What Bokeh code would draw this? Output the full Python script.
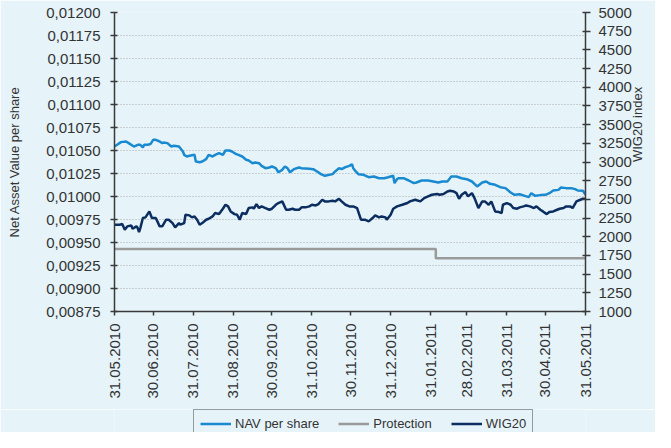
import math
import pandas as pd
from bokeh.plotting import figure
from bokeh.layouts import column
from bokeh.models import (Range1d, LinearAxis, FixedTicker, CustomJSTickFormatter,
                          DatetimeTickFormatter, Legend, LegendItem, ColumnDataSource)
from bokeh.embed import file_html
from bokeh.resources import INLINE

# ---------------- data ----------------
start_date = "2010-05-31"
end_date = "2011-05-31"

x_tick_dates = ["2010-05-31", "2010-06-30", "2010-07-31", "2010-08-31", "2010-09-30",
                "2010-10-31", "2010-11-30", "2010-12-31", "2011-01-31", "2011-02-28",
                "2011-03-31", "2011-04-30", "2011-05-31"]

left_ticks = [0.00875, 0.00900, 0.00925, 0.00950, 0.00975, 0.01000, 0.01025,
              0.01050, 0.01075, 0.01100, 0.01125, 0.01150, 0.01175, 0.01200]
right_ticks = [1000, 1250, 1500, 1750, 2000, 2250, 2500, 2750, 3000, 3250,
               3500, 3750, 4000, 4250, 4500, 4750, 5000]

series_names = ["NAV per share", "Protection", "WIG20"]

# days after 31.05.2010
nav_day = [0, 2, 5, 9, 11, 15, 18, 20, 22, 23, 26, 28, 30, 32, 35, 37, 38, 41, 44, 46,
           50, 53, 54, 56, 59, 62, 63, 66, 68, 71, 73, 76, 78, 81, 84, 86, 89, 91, 94, 96,
           99, 102, 104, 107, 109, 112, 114, 117, 120, 122, 125, 127, 130, 132, 134, 136, 139, 143, 145, 151,
           154, 157, 160, 163, 169, 171, 174, 176, 179, 182, 184, 185, 187, 189, 193, 197, 201, 205, 209, 212,
           216, 217, 219, 220, 224, 228, 232, 234, 238, 243, 247, 251, 254, 258, 261, 265, 269, 273, 277, 281,
           285, 288, 291, 295, 299, 303, 307, 310, 314, 318, 321, 323, 326, 330, 334, 337, 340, 344, 346, 350,
           354, 357, 359, 363, 365]
nav_value = [0.010543, 0.010562, 0.010591, 0.010598, 0.010580, 0.010543, 0.010562, 0.010562, 0.010533, 0.010562,
             0.010562, 0.010572, 0.010616, 0.010616, 0.010598, 0.010580, 0.010587, 0.010580, 0.010543, 0.010551,
             0.010543, 0.010489, 0.010453, 0.010435, 0.010446, 0.010453, 0.010380, 0.010373, 0.010380, 0.010406,
             0.010453, 0.010435, 0.010453, 0.010471, 0.010453, 0.010500, 0.010500, 0.010489, 0.010464, 0.010453,
             0.010435, 0.010399, 0.010391, 0.010362, 0.010370, 0.010362, 0.010333, 0.010308, 0.010315, 0.010326,
             0.010308, 0.010264, 0.010290, 0.010326, 0.010308, 0.010264, 0.010297, 0.010315, 0.010308, 0.010301,
             0.010297, 0.010272, 0.010243, 0.010225, 0.010243, 0.010272, 0.010308, 0.010297, 0.010319, 0.010333,
             0.010351, 0.010308, 0.010272, 0.010243, 0.010236, 0.010210, 0.010217, 0.010199, 0.010199, 0.010210,
             0.010225, 0.010145, 0.010190, 0.010199, 0.010199, 0.010174, 0.010145, 0.010152, 0.010174, 0.010174,
             0.010163, 0.010152, 0.010163, 0.010163, 0.010217, 0.010217, 0.010199, 0.010188, 0.010163, 0.010109,
             0.010152, 0.010163, 0.010138, 0.010127, 0.010101, 0.010091, 0.010043, 0.010018, 0.010025, 0.010007,
             0.009993, 0.010036, 0.010007, 0.010015, 0.010018, 0.010036, 0.010065, 0.010072, 0.010098, 0.010091,
             0.010091, 0.010080, 0.010065, 0.010062, 0.010018]

wig_day = [0, 4, 6, 8, 10, 13, 14, 17, 18, 19, 20, 22, 24, 27, 29, 32, 35, 37, 40, 42,
           45, 47, 50, 51, 54, 55, 58, 60, 62, 64, 66, 68, 71, 73, 76, 78, 81, 84, 86, 88,
           90, 93, 95, 97, 99, 102, 104, 107, 108, 110, 112, 114, 117, 120, 122, 125, 127, 130, 133, 135,
           138, 140, 143, 145, 148, 151, 153, 156, 158, 161, 163, 166, 169, 171, 174, 176, 179, 182, 185, 188,
           191, 194, 197, 200, 202, 205, 207, 210, 211, 214, 216, 219, 223, 227, 229, 233, 237, 240, 243, 246,
           250, 252, 255, 258, 260, 263, 265, 267, 269, 272, 274, 277, 279, 282, 285, 287, 290, 292, 295, 298,
           300, 301, 304, 307, 309, 312, 314, 317, 319, 322, 325, 327, 330, 332, 335, 337, 340, 343, 345, 348,
           350, 353, 355, 358, 361, 363, 365]
wig_value = [2161, 2161, 2170, 2094, 2139, 2152, 2107, 2139, 2116, 2063, 2116, 2250, 2259, 2339, 2250, 2250, 2139, 2139, 2228, 2228,
             2183, 2125, 2183, 2161, 2183, 2295, 2286, 2259, 2272, 2228, 2161, 2183, 2228, 2241, 2272, 2317, 2303, 2375, 2428, 2406,
             2339, 2303, 2295, 2228, 2317, 2303, 2384, 2393, 2375, 2437, 2384, 2406, 2384, 2361, 2375, 2428, 2451, 2473, 2361, 2361,
             2375, 2361, 2361, 2393, 2393, 2406, 2428, 2419, 2437, 2495, 2473, 2473, 2482, 2473, 2508, 2473, 2428, 2406, 2406, 2384,
             2228, 2228, 2205, 2250, 2286, 2259, 2272, 2259, 2228, 2295, 2375, 2406, 2428, 2451, 2473, 2495, 2473, 2517, 2540, 2562,
             2571, 2562, 2571, 2606, 2615, 2606, 2584, 2508, 2562, 2598, 2540, 2584, 2517, 2384, 2473, 2473, 2428, 2473, 2339, 2330,
             2317, 2428, 2451, 2428, 2384, 2375, 2393, 2406, 2419, 2406, 2384, 2406, 2361, 2339, 2303, 2330, 2339, 2361, 2375, 2384,
             2406, 2406, 2384, 2473, 2495, 2508, 2508]

protection_day = [0, 249, 249, 365]
protection_value = [0.00943, 0.00943, 0.00933, 0.00933]

# ---------------- styling ----------------
BG = "#e6f4fa"
TXT = "#333333"
AX = "#3a3a3a"
FONT = "Liberation Sans"
NAV_C = "#1a8ad0"
PROT_C = "#9a9a9a"
WIG_C = "#0b2d5f"
COLORS = [NAV_C, PROT_C, WIG_C]

t0 = pd.Timestamp(start_date)
to_dates = lambda days: [t0 + pd.Timedelta(days=d) for d in days]

nav_src = ColumnDataSource(dict(x=to_dates(nav_day), y=nav_value))
wig_src = ColumnDataSource(dict(x=to_dates(wig_day), y=wig_value))
prot_src = ColumnDataSource(dict(x=to_dates(protection_day), y=protection_value))
SOURCES = [nav_src, prot_src, wig_src]

p = figure(width=655, height=409, x_axis_type="datetime",
           x_range=Range1d(pd.Timestamp(start_date), pd.Timestamp(end_date)),
           y_range=Range1d(0.00875, 0.012),
           output_backend="svg", toolbar_location=None,
           min_border_left=114, min_border_right=69, min_border_top=12, min_border_bottom=98,
           background_fill_color=BG, border_fill_color=BG, outline_line_color=None)

p.extra_y_ranges = {"wig": Range1d(1000, 5000)}

# grid
p.xgrid.visible = False
p.ygrid.ticker = FixedTicker(ticks=left_ticks)
p.ygrid.grid_line_color = "#aaaaaa"
p.ygrid.grid_line_dash = "1 2"
p.ygrid.grid_line_width = 1

# lines
p.line("x", "y", source=prot_src, line_color=PROT_C, line_width=2.5)
p.line("x", "y", source=nav_src, line_color=NAV_C, line_width=2.5)
p.line("x", "y", source=wig_src, line_color=WIG_C, line_width=2.5, y_range_name="wig")

# x axis
xa = p.xaxis[0]
xa.ticker = FixedTicker(ticks=[pd.Timestamp(d).value // 10**6 for d in x_tick_dates])
fmt = "%d.%m.%Y"
xa.formatter = DatetimeTickFormatter(microseconds=fmt, milliseconds=fmt, seconds=fmt, minsec=fmt,
                                     minutes=fmt, hourmin=fmt, hours=fmt, days=fmt, months=fmt, years=fmt)
xa.major_label_orientation = math.pi / 2
xa.major_tick_out = 4
xa.major_tick_in = 0
xa.minor_tick_line_color = None
xa.major_label_standoff = 8

# left axis
ya = p.yaxis[0]
ya.ticker = FixedTicker(ticks=left_ticks)
ya.formatter = CustomJSTickFormatter(code="return tick.toFixed(5).replace('.', ',');")
ya.axis_label = "Net Asset Value per share"
ya.axis_label_standoff = 21
ya.major_tick_out = 4
ya.major_tick_in = 3
ya.minor_tick_line_color = None
ya.major_label_standoff = 10

# right axis
ra = LinearAxis(y_range_name="wig", ticker=FixedTicker(ticks=right_ticks))
ra.axis_label = "WIG20 index"
ra.axis_label_orientation = math.pi / 2
ra.axis_label_standoff = 3
ra.major_tick_out = 5
ra.major_tick_in = 3
ra.minor_tick_line_color = None
ra.major_label_standoff = 8
p.add_layout(ra, "right")

for ax in (xa, ya, ra):
    ax.axis_line_color = AX
    ax.axis_line_width = 1.5
    ax.major_tick_line_color = AX
    ax.major_tick_line_width = 1.5
    ax.major_label_text_font = FONT
    ax.major_label_text_font_size = "15px"
    ax.major_label_text_color = TXT
    ax.axis_label_text_font = FONT
    ax.axis_label_text_font_size = "13px"
    ax.axis_label_text_font_style = "normal"
    ax.axis_label_text_color = TXT

# ---------------- legend strip below ----------------
lg = figure(width=655, height=23, output_backend="svg", toolbar_location=None,
            x_range=Range1d(0, 1), y_range=Range1d(0, 1),
            min_border_left=0, min_border_right=0, min_border_top=0, min_border_bottom=0,
            background_fill_color=BG, border_fill_color=BG, outline_line_color=None)
lg.axis.visible = False
lg.grid.visible = False
items = []
for name, col, src in zip(series_names, COLORS, SOURCES):
    # same data, but outside this strip's ranges, so only the legend glyph shows
    r = lg.line("x", "y", source=src, line_color=col, line_width=2.5)
    items.append(LegendItem(label=name, renderers=[r]))

legend = Legend(items=items, orientation="horizontal", location=(79, -6))
legend.border_line_color = "#444444"
legend.border_line_width = 1
legend.background_fill_color = BG
legend.background_fill_alpha = 1
legend.label_text_font = FONT
legend.label_text_font_size = "13px"
legend.label_text_color = TXT
legend.glyph_width = 31
legend.glyph_height = 15
legend.label_height = 15
legend.label_standoff = 4
legend.spacing = 19
legend.padding = 6
legend.margin = 0
lg.add_layout(legend)

layout = column(p, lg, spacing=0)

open("out.html", "w").write(file_html(layout, INLINE))
